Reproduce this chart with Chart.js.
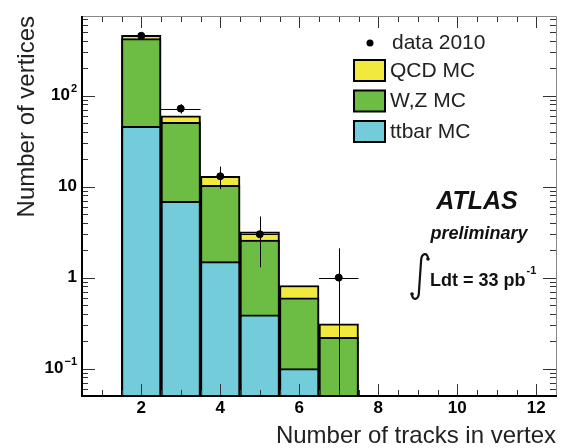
<!DOCTYPE html>
<html>
<head>
<meta charset="utf-8">
<script src="https://cdn.jsdelivr.net/npm/chart.js@4.4.1/dist/chart.umd.min.js"></script>
<style>
  html, body { margin: 0; padding: 0; background: #fff; }
</style>
</head>
<body>
<canvas id="myChart" width="561" height="448"></canvas>
<script>
// bin centres (number of tracks in vertex), each bin is 1 wide
const trackBins = [2, 3, 4, 5, 6, 7];

// MC stack components, bottom to top
const ttbarMC = [46, 6.9, 1.5, 0.39, 0.1, 0];
const wzMC = [377, 44, 8.8, 2.2, 0.5, 0.22];
const qcdMC = [37, 9, 2.7, 0.6, 0.22, 0.09];

// data 2010 with error bars
const data2010 = [455, 72, 13, 3, 0, 1];
const dataErrUp = [21, 8.5, 3.6, 1.7, 0, 1.1];
const dataErrDown = [21, 8.5, 3.6, 1.7, 0, 1];

const xTickLabels = [2, 4, 6, 8, 10, 12];
const yTickLabels = [0.1, 1, 10, 100];

const FONT = "'Liberation Sans', Arial, sans-serif";
const colQCD = "#f1e93c";
const colWZ = "#6dbd45";
const colTT = "#72ccd9";

// cumulative stack tops
const ttbarTop = ttbarMC.map(v => v > 0 ? v : null);
const wzTop = wzMC.map((v, i) => ttbarMC[i] + v);
const qcdTop = qcdMC.map((v, i) => wzTop[i] + v);

const toXY = arr => trackBins.map((x, i) => ({ x: x, y: arr[i] }));

const barStyle = {
    type: "bar",
    grouped: false,
    barPercentage: 1,
    categoryPercentage: 1,
    borderColor: "#000",
    borderWidth: 2
};

const decor = {
    id: "decor",
    afterDatasetsDraw(chart) {
        const ctx = chart.ctx;
        const xs = chart.scales.x;
        const ys = chart.scales.y;
        const a = chart.chartArea;
        ctx.save();

        // data error bars
        ctx.strokeStyle = "#000";
        ctx.lineWidth = 1;
        trackBins.forEach((c, i) => {
            const v = data2010[i];
            if (!(v > 0)) return;
            const px = Math.round(xs.getPixelForValue(c)) + 0.5;
            const py = ys.getPixelForValue(v);
            const lo = v - dataErrDown[i];
            const yTop = ys.getPixelForValue(v + dataErrUp[i]);
            const yBot = lo > ys.min ? ys.getPixelForValue(lo) : a.bottom;
            ctx.beginPath();
            ctx.moveTo(px, yTop);
            ctx.lineTo(px, yBot);
            ctx.moveTo(xs.getPixelForValue(c - 0.5), Math.round(py) + 0.5);
            ctx.lineTo(xs.getPixelForValue(c + 0.5), Math.round(py) + 0.5);
            ctx.stroke();
        });

        // x tick marks, bottom and top
        ctx.strokeStyle = "#333";
        ctx.lineWidth = 1;
        for (let v = 1; v <= 12; v += 0.5) {
            const px = Math.round(xs.getPixelForValue(v)) + 0.5;
            const len = v % 2 === 0 ? 12 : 6;
            ctx.beginPath();
            ctx.moveTo(px, a.bottom);
            ctx.lineTo(px, a.bottom - len);
            ctx.moveTo(px, a.top);
            ctx.lineTo(px, a.top + len);
            ctx.stroke();
        }

        // y tick marks, left and right
        for (let d = 0.01; d < 2000; d *= 10) {
            for (let m = 1; m <= 9; m++) {
                const v = m * d;
                if (v < ys.min || v > ys.max) continue;
                const py = Math.round(ys.getPixelForValue(v)) + 0.5;
                const len = m === 1 ? 13 : 6;
                ctx.beginPath();
                ctx.moveTo(a.left, py);
                ctx.lineTo(a.left + len, py);
                ctx.moveTo(a.right, py);
                ctx.lineTo(a.right - len, py);
                ctx.stroke();
            }
        }

        // frame
        ctx.strokeStyle = "#888";
        ctx.lineWidth = 1;
        ctx.beginPath();
        ctx.moveTo(a.left, a.top + 0.5);
        ctx.lineTo(a.right + 0.5, a.top + 0.5);
        ctx.lineTo(a.right + 0.5, a.bottom);
        ctx.stroke();
        ctx.strokeStyle = "#000";
        ctx.lineWidth = 2;
        ctx.beginPath();
        ctx.moveTo(a.left, a.top);
        ctx.lineTo(a.left, a.bottom);
        ctx.lineTo(a.right + 1, a.bottom);
        ctx.stroke();

        // y tick labels with superscripts
        ctx.fillStyle = "#000";
        ctx.textBaseline = "middle";
        yTickLabels.forEach(v => {
            const py = ys.getPixelForValue(v);
            const e = Math.round(Math.log10(v));
            ctx.textAlign = "right";
            if (e === 0 || e === 1) {
                ctx.font = "bold 17px " + FONT;
                ctx.fillText(String(v), a.left - 5, py);
            } else {
                const sup = String(e).replace("-", "\u2212");
                ctx.font = "bold 11px " + FONT;
                const sw = ctx.measureText(sup).width;
                ctx.fillText(sup, a.left - 5, py - 7);
                ctx.font = "bold 17px " + FONT;
                ctx.fillText("10", a.left - 5 - sw - 1, py);
            }
        });

        // legend
        ctx.textAlign = "left";
        ctx.font = "21px " + FONT;
        ctx.fillStyle = "#000";
        ctx.beginPath();
        ctx.arc(370, 43, 3.5, 0, Math.PI * 2);
        ctx.fill();
        ctx.fillStyle = "#222";
        ctx.fillText("data 2010", 392, 43);
        const items = [["QCD MC", colQCD], ["W,Z MC", colWZ], ["ttbar MC", colTT]];
        items.forEach((it, k) => {
            const y0 = 60 + k * 30.5;
            ctx.fillStyle = it[1];
            ctx.fillRect(354, y0, 31, 21);
            ctx.strokeStyle = "#000";
            ctx.lineWidth = 2;
            ctx.strokeRect(354, y0, 31, 21);
            ctx.fillStyle = "#222";
            ctx.fillText(it[0], 390, y0 + 11);
        });

        // ATLAS label
        ctx.fillStyle = "#111";
        ctx.textAlign = "center";
        ctx.font = "italic bold 25px " + FONT;
        ctx.fillText("ATLAS", 477, 202);
        ctx.font = "italic bold 18px " + FONT;
        ctx.fillText("preliminary", 479, 234);
        ctx.textAlign = "left";
        ctx.font = "bold 18px " + FONT;
        ctx.fillText("Ldt = 33 pb", 430, 281);
        const w = ctx.measureText("Ldt = 33 pb").width;
        ctx.font = "bold 11px " + FONT;
        ctx.fillText("-1", 430 + w + 1, 271);
        // integral sign
        ctx.strokeStyle = "#111";
        ctx.lineWidth = 2.2;
        ctx.beginPath();
        ctx.moveTo(428, 259);
        ctx.bezierCurveTo(428, 252, 421, 252, 421, 262);
        ctx.lineTo(419, 291);
        ctx.bezierCurveTo(419, 301, 412, 301, 412, 294);
        ctx.stroke();
        ctx.beginPath();
        ctx.arc(428, 259, 1.8, 0, Math.PI * 2);
        ctx.fillStyle = "#111";
        ctx.fill();
        ctx.beginPath();
        ctx.arc(412, 294, 1.8, 0, Math.PI * 2);
        ctx.fill();

        ctx.restore();
    }
};

const ctx = document.getElementById("myChart").getContext("2d");
const myChart = new Chart(ctx, {
    type: "bar",
    data: {
        datasets: [
            {
                type: "line",
                label: "data 2010",
                data: toXY(data2010.map(v => v > 0 ? v : null)),
                showLine: false,
                pointRadius: 3.5,
                pointBackgroundColor: "#000",
                pointBorderColor: "#000",
                order: 0
            },
            Object.assign({ label: "ttbar MC", data: toXY(ttbarTop), backgroundColor: colTT, order: 1 }, barStyle),
            Object.assign({ label: "W,Z MC", data: toXY(wzTop), backgroundColor: colWZ, order: 2 }, barStyle),
            Object.assign({ label: "QCD MC", data: toXY(qcdTop), backgroundColor: colQCD, order: 3 }, barStyle)
        ]
    },
    options: {
        responsive: false,
        animation: false,
        layout: { padding: { top: 16, right: 4, left: 0, bottom: 0 } },
        plugins: {
            legend: { display: false },
            tooltip: { enabled: false }
        },
        scales: {
            x: {
                type: "linear",
                min: 0.5,
                max: 12.5,
                offset: false,
                grid: { display: false, drawTicks: false },
                border: { display: false },
                afterBuildTicks: scale => {
                    scale.ticks = xTickLabels.map(v => ({ value: v }));
                },
                afterFit: scale => { scale.height = 52; },
                ticks: {
                    autoSkip: false,
                    maxRotation: 0,
                    padding: 2,
                    color: "#000",
                    font: { family: FONT, size: 17, weight: "bold" }
                },
                title: {
                    display: true,
                    text: "Number of tracks in vertex",
                    align: "end",
                    color: "#222",
                    font: { family: FONT, size: 24, lineHeight: 1 },
                    padding: { top: 0, bottom: 0 }
                }
            },
            y: {
                type: "logarithmic",
                min: 0.05,
                max: 750,
                grid: { display: false, drawTicks: false },
                border: { display: false },
                afterFit: scale => { scale.width = 82; },
                ticks: { display: false },
                title: {
                    display: true,
                    text: "Number of vertices",
                    align: "end",
                    color: "#222",
                    font: { family: FONT, size: 24, lineHeight: 1.2 },
                    padding: { top: 13, bottom: 0 }
                }
            }
        }
    },
    plugins: [decor]
});
</script>
</body>
</html>
